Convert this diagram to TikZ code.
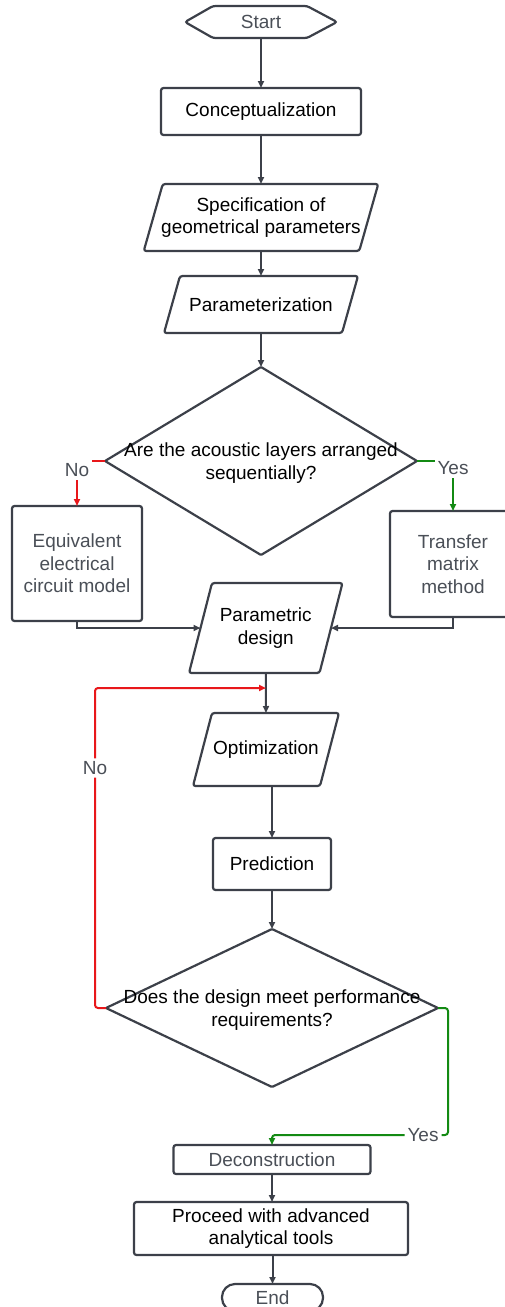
\documentclass[tikz,border=0pt]{standalone}
\usepackage{fontspec}
\setmainfont{Liberation Sans}
\usetikzlibrary{shapes.geometric,arrows.meta,calc}
\definecolor{ln}{HTML}{3C4049}
\definecolor{gtxt}{HTML}{4A4F57}
\definecolor{rd}{HTML}{E8171A}
\definecolor{gn}{HTML}{138A13}
\newcommand\paranode[8]{%
  \node[ptext, text=#8, minimum width=#4pt, minimum height=#5pt] (#1) at (#2,#3) {#7};
  \draw[boxline] ([xshift=#6pt]#1.north west) -- ([xshift=#6pt]#1.north east)
     -- ([xshift=-#6pt]#1.south east) -- ([xshift=-#6pt]#1.south west) -- cycle;}
\begin{document}
\begin{tikzpicture}[x=1pt,y=-1pt,
  every node/.style={font=\fontsize{19}{22.5}\selectfont, align=center, outer sep=0pt, inner sep=0pt},
  boxline/.style={draw=ln, line width=2.2pt, rounded corners=2.5pt},
  box/.style={boxline, fill=white},
  ptext/.style={},
  conn/.style={draw=ln, line width=2pt, -{Triangle[length=7pt,width=6pt]}},
  lbl/.style={fill=white, text=gtxt, inner sep=3pt},
  dia/.style={diamond, draw=ln, line width=2.2pt, rounded corners=1pt},
  dtext/.style={yshift=-2pt}
]
\useasboundingbox (0,0) rectangle (505,1307);

% Start
\node[text=gtxt, minimum width=152pt, minimum height=32pt] (start) at (261,22) {Start};
\draw[boxline] (start.west) -- ([xshift=28pt]start.north west) -- ([xshift=-30pt]start.north east)
  -- (start.east) -- ([xshift=-30pt]start.south east) -- ([xshift=28pt]start.south west) -- cycle;

\node[box, minimum width=200pt, minimum height=47pt] (concept) at (261,111.5) {Conceptualization};

\paranode{spec}{261}{217.5}{215.5}{67}{9.5}{Specification of\\geometrical parameters}{black}
\paranode{parz}{261}{304.5}{178}{57}{8}{Parameterization}{black}

\node[dia, minimum width=312pt, minimum height=188pt] (d1) at (261,461) {};
\node[dtext] (d1t) at (261,461) {Are the acoustic layers arranged\\sequentially?};

\node[box, text=gtxt, minimum width=130pt, minimum height=115pt] (equiv) at (77,563.5) {Equivalent\\electrical\\circuit model};
\node[box, text=gtxt, minimum width=126pt, minimum height=106pt] (transfer) at (453,564) {Transfer\\matrix\\method};

\paranode{param}{265.75}{628}{130.5}{90}{11.5}{Parametric\\design}{black}
\paranode{opt}{266}{749.5}{127}{73}{9.5}{Optimization}{black}

\node[box, minimum width=118pt, minimum height=52pt] (pred) at (272,864) {Prediction};

\node[dia, minimum width=332pt, minimum height=158pt] (d2) at (272,1008) {};
\node[dtext] (d2t) at (272,1008) {Does the design meet performance\\requirements?};

\node[box, text=gtxt, minimum width=197pt, minimum height=29pt] (decon) at (272,1159.5) {Deconstruction};
\node[box, minimum width=274pt, minimum height=53pt] (proc) at (271,1228.5) {Proceed with advanced\\analytical tools};
\node[draw=ln, line width=2.2pt, rounded corners=13pt, text=gtxt, minimum width=101pt, minimum height=27pt] (endn) at (272.5,1297.5) {End};

\coordinate (merge) at (266,688);
\coordinate (yj) at (272,1135);

% connectors
\draw[conn] (start.south) -- (concept.north);
\draw[conn] (concept.south) -- (spec.north);
\draw[conn] (spec.south) -- (parz.north);
\draw[conn] (parz.south) -- (d1.north);
\draw[conn, draw=rd] (d1.west) -| node[lbl, pos=0.5, yshift=-9pt] {No} (equiv.north);
\draw[conn, draw=gn] (d1.east) -| node[lbl, pos=0.5, yshift=-7pt] {Yes} (transfer.north);
\draw[conn] (equiv.south) |- (param.west);
\draw[conn] (transfer.south) |- (param.east);
\draw[conn] (param.south) -- (opt.north);
\draw[conn, draw=rd, rounded corners=3pt] (d2.west) -- ++(-11,0) |- node[lbl, pos=0.375] {No} (merge);
\draw[conn] (opt.south -| pred.north) -- (pred.north);
\draw[conn] (pred.south) -- (d2.north);
\draw[conn, draw=gn, rounded corners=3pt] (d2.east) -- ++(10,0) |- node[lbl, pos=0.571] {Yes} (yj) -- (decon.north);
\draw[conn] (decon.south) -- (decon.south |- proc.north);
\draw[conn] (proc.south -| endn.north) -- (endn.north);
\end{tikzpicture}
\end{document}
